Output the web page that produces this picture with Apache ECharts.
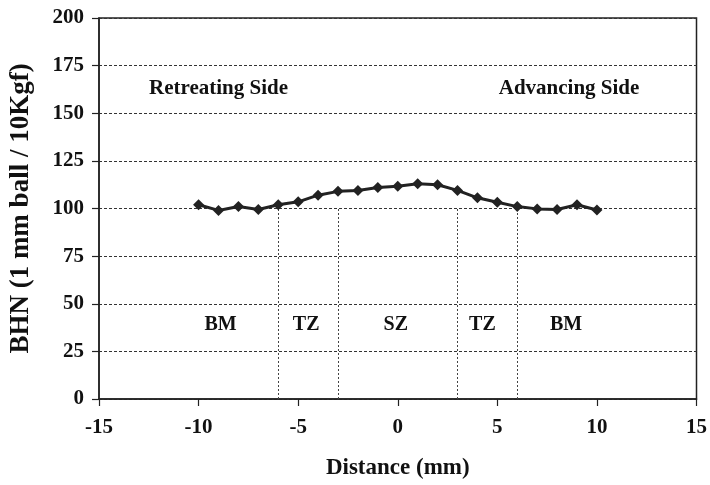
<!DOCTYPE html>
<html>
<head>
<meta charset="utf-8">
<script src="https://cdn.jsdelivr.net/npm/echarts@6/dist/echarts.min.js"></script>
<style>html,body{margin:0;padding:0;background:#fff}#c{width:710px;height:485px}</style>
</head>
<body>
<div id="c"></div>
<script>
var distances = [-10,-9,-8,-7,-6,-5,-4,-3,-2,-1,0,1,2,3,4,5,6,7,8,9,10];
var bhn = [102,99,101,99.5,102,103.5,107,109,109.5,111,111.7,113,112.5,109.5,105.6,103.3,101,99.8,99.5,102,99.2];
var zoneBounds = [-6,-3,3,6];
var zoneNames = ['BM','TZ','SZ','TZ','BM'];
var zoneCenters = [-8.9,-4.6,-0.1,4.25,8.45];
var zoneLabelLevel = 39;
var sideNames = ['Retreating Side','Advancing Side'];
var sideCenters = [-9,8.6];
var sideLabelLevel = 163;

var font = 'Liberation Serif';
var chart = echarts.init(document.getElementById('c'));
var pts = distances.map(function(d,i){return [d,bhn[i]];});
chart.setOption({
  animation:false,
  grid:{left:96,right:12,top:18,bottom:85,show:true,borderColor:'#222',borderWidth:1.5,backgroundColor:'transparent'},
  xAxis:{type:'value',min:-15,max:15,interval:5,
    name:'Distance (mm)',nameLocation:'middle',nameGap:58,
    nameTextStyle:{fontFamily:font,fontWeight:'bold',fontSize:23,color:'#111'},
    axisLine:{onZero:false,lineStyle:{color:'#222',width:1.5}},
    axisTick:{show:true,length:7,lineStyle:{color:'#222',width:1.2}},
    axisLabel:{fontFamily:font,fontWeight:'bold',fontSize:21,color:'#111',margin:18},
    splitLine:{show:false}},
  yAxis:{type:'value',min:0,max:200,interval:25,
    name:'BHN (1 mm ball / 10Kgf)',nameLocation:'middle',nameGap:64,
    nameTextStyle:{fontFamily:font,fontWeight:'bold',fontSize:27,color:'#111'},
    axisLine:{onZero:false,lineStyle:{color:'#222',width:1.5}},
    axisTick:{show:true,length:7,lineStyle:{color:'#222',width:1.2}},
    axisLabel:{fontFamily:font,fontWeight:'bold',fontSize:21,color:'#111',margin:15},
    splitLine:{show:true,lineStyle:{type:[3,2],color:'#333',width:1.2}}},
  series:[
    {type:'line',data:pts,symbol:'diamond',symbolSize:11,
     lineStyle:{color:'#222',width:3},itemStyle:{color:'#222'},z:5,
     markLine:{silent:true,symbol:'none',label:{show:false},
       lineStyle:{type:[2,2],color:'#444',width:1},
       data:zoneBounds.map(function(x){return [{coord:[x,0]},{coord:[x,100]}];})}}
  ]
});
var texts = [];
function addText(name, x, y, size){
  var p = chart.convertToPixel({gridIndex:0},[x,y]);
  texts.push({type:'text',x:p[0],y:p[1],z:10,silent:true,
    style:{text:name,fill:'#111',font:'bold '+size+'px "'+font+'"',align:'center',verticalAlign:'middle'}});
}
zoneNames.forEach(function(n,i){addText(n,zoneCenters[i],zoneLabelLevel,20);});
sideNames.forEach(function(n,i){addText(n,sideCenters[i],sideLabelLevel,21);});
chart.setOption({graphic:texts});
</script>
</body>
</html>
